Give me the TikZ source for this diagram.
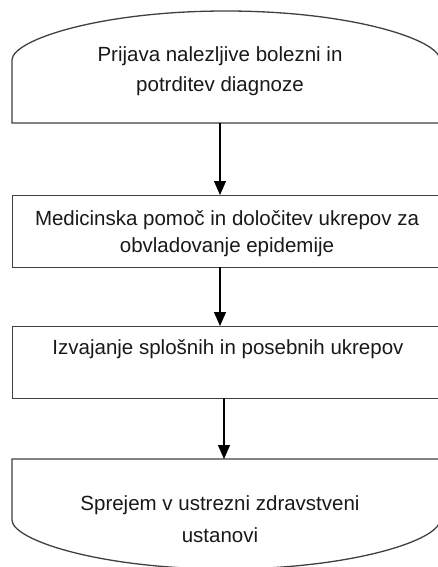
\documentclass[tikz,border=0pt]{standalone}
\usepackage{fontspec}
\setmainfont{Liberation Sans}
\usetikzlibrary{arrows.meta}
\begin{document}
\begin{tikzpicture}[x=1pt,y=1pt,
  shapeline/.style={draw=black!75,line width=1.3pt},
  boxnode/.style={shapeline,rectangle,inner sep=0pt,anchor=north west},
  txt/.style={font=\fontsize{20.5}{24}\selectfont,text=black!90,inner sep=0pt,anchor=base},
  arr/.style={draw=black,line width=1.3pt,-{Triangle[length=14pt,width=12pt]}}]
\useasboundingbox (0,0) rectangle (438,-567);
\clip (0,0) rectangle (438,-567);
\fill[white] (0,0) rectangle (438,-567);
% top terminal shape
\draw[shapeline] (12,-123) -- (12,-60) .. controls (12,-40) and (100,-11) .. (226,-11)
  .. controls (352,-11) and (440,-40) .. (440,-60) -- (440,-123) -- cycle;
\coordinate (topout) at (220,-123);
\node[txt] (t1) at (220,-62) {Prijava nalezljive bolezni in};
\node[txt] (t2) at (220,-92) {potrditev diagnoze};
% box 2
\node[boxnode,minimum width=430pt,minimum height=72pt] (b2) at (12,-195) {};
\node[txt] (m1) at (227,-225) {Medicinska pomoč in določitev ukrepov za};
\node[txt] (m2) at (227,-252) {obvladovanje epidemije};
% box 3
\node[boxnode,minimum width=430pt,minimum height=72pt] (b3) at (12,-326) {};
\node[txt] (i1) at (228,-354) {Izvajanje splošnih in posebnih ukrepov};
% bottom terminal shape
\draw[shapeline] (12,-459) -- (12,-520) .. controls (12,-540) and (100,-569) .. (226,-569)
  .. controls (352,-569) and (440,-540) .. (440,-520) -- (440,-459) -- cycle;
\coordinate (botin) at (224,-459);
\node[txt] (s1) at (220,-510) {Sprejem v ustrezni zdravstveni};
\node[txt] (s2) at (220,-542) {ustanovi};
% arrows
\coordinate (a2) at (220,-267);
\coordinate (a3) at (224,-398);
\draw[arr] (topout) -- (topout |- b2.north);
\draw[arr] (a2) -- (a2 |- b3.north);
\draw[arr] (a3) -- (botin);
\end{tikzpicture}
\end{document}
